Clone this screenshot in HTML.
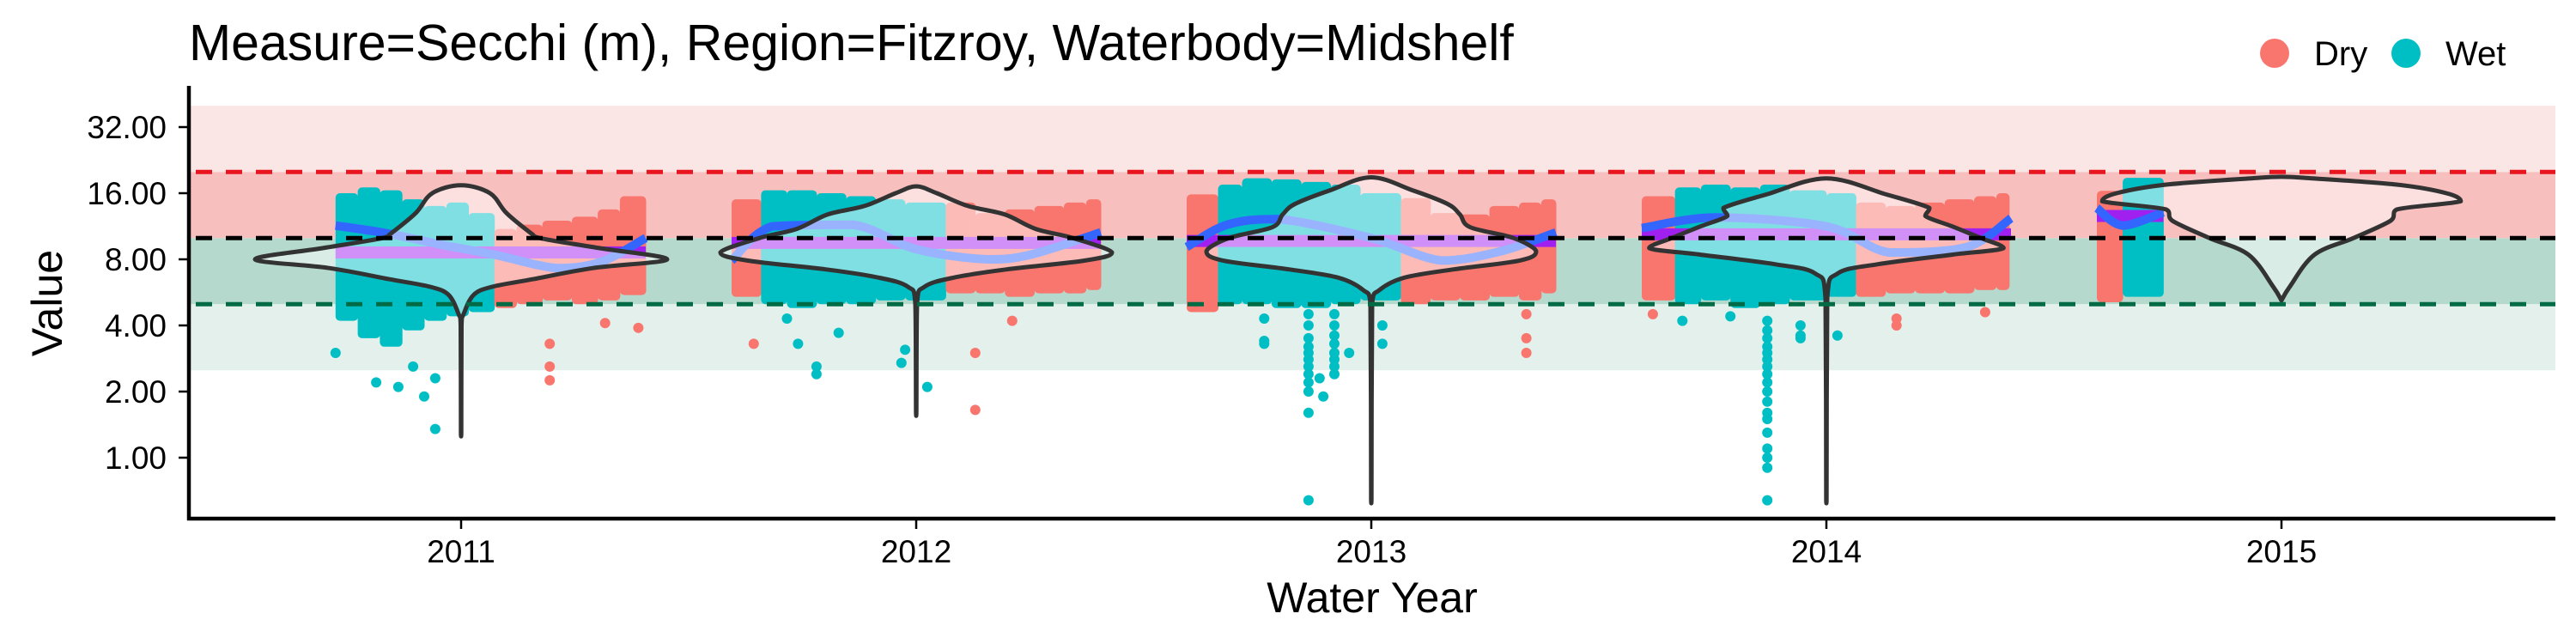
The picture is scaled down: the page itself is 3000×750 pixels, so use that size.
<!DOCTYPE html>
<html><head><meta charset="utf-8">
<style>
html,body{margin:0;padding:0;background:#fff;}
svg{display:block;font-family:"Liberation Sans",Arial,sans-serif;}
</style></head>
<body>
<svg id="chart" width="3000" height="750" viewBox="0 0 3000 750" xmlns="http://www.w3.org/2000/svg">
  <text x="220" y="70" font-size="59" fill="#000">Measure=Secchi (m), Region=Fitzroy, Waterbody=Midshelf</text>
  <g>
    <circle cx="2649" cy="62" r="17" fill="#F8766D"/>
    <text x="2695" y="76" font-size="40">Dry</text>
    <circle cx="2802" cy="62" r="17" fill="#00BFC4"/>
    <text x="2848" y="76" font-size="40">Wet</text>
  </g>
  <g id="bands"></g>
  <g id="pts"></g>
  <g id="trend"></g>
  <g id="violins"></g>
  <g id="refs"></g>
  <g id="axes"></g>
  <text transform="translate(72,353) rotate(-90)" text-anchor="middle" font-size="50">Value</text>
  <text x="1598" y="713" text-anchor="middle" font-size="50">Water Year</text>
</svg>
<script>
// ---- data ----
const years = [2011, 2012, 2013, 2014, 2015];
const yTicks = [1, 2, 4, 8, 16, 32];
const yTickLabels = ["1.00", "2.00", "4.00", "8.00", "16.00", "32.00"];
const bandLo = [2.5, 5, 10, 20];
const bandHi = [5, 10, 20, 40];
const refVals = [5, 10, 20];
const meanVals = [8.6, 9.5, 9.7, 10.4, 12.6];
const meanStart = [0.16, 0.0, 0.0, 0.0, 0.0];
const meanEnd = [1.0, 1.0, 1.0, 1.0, 0.18];
const trendT = [
  [0.16, 0.30, 0.45, 0.59, 0.76, 0.88, 1.0],
  [0.0, 0.11, 0.33, 0.50, 0.69, 0.81, 1.0],
  [0.0, 0.11, 0.25, 0.50, 0.69, 0.85, 1.0],
  [0.0, 0.20, 0.50, 0.67, 0.88, 1.0],
  [0.0, 0.07, 0.18]
];
const trendV = [
  [11.4, 10.5, 9.3, 8.4, 7.3, 7.8, 10.0],
  [7.9, 11.3, 11.5, 8.9, 8.0, 8.4, 10.6],
  [9.1, 11.5, 12.2, 10.0, 7.9, 8.7, 10.6],
  [11.1, 12.4, 11.3, 8.6, 9.1, 12.3],
  [13.7, 11.4, 13.1]
];
const violinLev = [
  [1.25, 1.3, 4.0, 4.5, 5.5, 6.0, 6.5, 7.3, 8.0, 9.0, 10.0, 10.5, 13.0, 16.0, 17.4],
  [1.55, 1.6, 5.0, 6.0, 6.6, 7.2, 7.9, 8.6, 10.0, 11.0, 12.8, 14.0, 16.0, 17.2],
  [0.62, 0.64, 5.0, 5.8, 6.6, 7.2, 7.9, 8.7, 10.0, 11.2, 12.8, 14.3, 16.5, 18.9],
  [0.62, 0.64, 5.3, 6.9, 7.6, 8.4, 9.0, 10.0, 11.3, 12.6, 13.7, 15.8, 18.7],
  [5.2, 6.0, 8.4, 10.0, 12.0, 13.5, 14.7, 16.0, 17.5, 18.7, 19.0]
];
const violinDen = [
  [0, 0.001, 0.002, 0.012, 0.06, 0.15, 0.35, 0.64, 1.0, 0.67, 0.38, 0.34, 0.22, 0.14, 0],
  [0, 0.001, 0.004, 0.04, 0.18, 0.44, 0.82, 0.95, 0.76, 0.58, 0.43, 0.25, 0.1, 0],
  [0, 0.001, 0.004, 0.04, 0.16, 0.40, 0.72, 0.80, 0.69, 0.48, 0.43, 0.37, 0.2, 0],
  [0, 0.001, 0.004, 0.055, 0.25, 0.61, 0.86, 0.75, 0.61, 0.48, 0.50, 0.29, 0],
  [0, 0.04, 0.16, 0.35, 0.53, 0.56, 0.87, 0.80, 0.56, 0.15, 0]
];
const cloudT = [
  [0.16, 0.22, 0.28, 0.34, 0.40, 0.46, 0.52, 0.59, 0.65, 0.72, 0.80, 0.87, 0.93],
  [0.0, 0.08, 0.15, 0.23, 0.31, 0.39, 0.47, 0.58, 0.66, 0.74, 0.82, 0.90, 0.96],
  [0.0, 0.085, 0.15, 0.23, 0.31, 0.39, 0.47, 0.58, 0.66, 0.74, 0.82, 0.90, 0.96],
  [0.0, 0.09, 0.16, 0.24, 0.32, 0.40, 0.50, 0.58, 0.66, 0.74, 0.82, 0.90, 0.96],
  [0.0, 0.07]
];
const cloudTop = [
  [16, 17, 16.5, 15, 14, 14.5, 13, 11, 11.5, 12, 12.5, 13.5, 15.5],
  [15, 16.5, 16.5, 16, 15.5, 15, 14.5, 14.5, 13, 13.5, 14, 14.5, 15],
  [15.8, 17.5, 18.7, 18.5, 18.0, 17.5, 16, 15.2, 13, 12.8, 14, 14.5, 15],
  [15.5, 17, 17.5, 17, 17.5, 16.5, 16, 14.5, 14, 14.5, 15, 15.5, 16],
  [16.4, 18.8]
];
const cloudBot = [
  [4.2, 3.5, 3.2, 3.8, 4.2, 4.4, 4.6, 4.8, 5, 5.2, 5, 5.2, 5.5],
  [5.4, 5.0, 4.8, 5.0, 5.0, 5.2, 5.2, 5.6, 5.6, 5.4, 5.6, 5.6, 5.8],
  [4.6, 5.0, 5.0, 4.8, 4.8, 5.0, 5.2, 5.0, 5.2, 5.2, 5.4, 5.2, 5.6],
  [5.2, 5.0, 5.2, 4.8, 5.0, 5.2, 5.4, 5.4, 5.6, 5.6, 5.6, 5.8, 5.8],
  [5.1, 5.4]
];
const cloudSeason = [
  ["W","W","W","W","W","W","W","D","D","D","D","D","D"],
  ["D","W","W","W","W","W","W","D","D","D","D","D","D"],
  ["D","W","W","W","W","W","W","D","D","D","D","D","D"],
  ["D","W","W","W","W","W","W","D","D","D","D","D","D"],
  ["D","W"]
];
const cloudEnd = [1.0, 1.0, 1.0, 0.995, 0.18];
const dotYear = [0,0,0,0,0,0,0,0,0,0,0,0, 1,1,1,1,1,1,1,1,1,1,1,1, 2,2,2,2,2,2,2,2,2,2,2,2,2,2,2,2,2,2,2,2,2,2,2,2,2,2,2,2,2,2,2, 3,3,3,3,3,3,3,3,3,3,3,3,3,3,3,3,3,3,3,3,3,3,3,3,3,3,3,3,3];
const dotT = [0.16,0.27,0.33,0.40,0.43,0.43,0.37,0.74,0.74,0.74,0.98,0.89,
  0.15,0.18,0.23,0.23,0.29,0.47,0.53,0.46,0.06,0.66,0.66,0.76,
  0.33,0.33,0.33,0.33,0.33,0.33,0.33,0.33,0.33,0.33,0.33,0.33,0.40,0.40,0.40,0.40,0.40,0.40,0.40,0.40,0.21,0.21,0.21,0.53,0.53,0.92,0.92,0.92,0.36,0.37,0.44,
  0.34,0.34,0.34,0.34,0.34,0.34,0.34,0.34,0.34,0.34,0.34,0.34,0.34,0.34,0.34,0.34,0.34,0.34,0.43,0.43,0.43,0.53,0.69,0.69,0.93,0.11,0.03,0.24];
const dotV = [3.0,2.2,2.1,1.9,1.35,2.3,2.6,2.25,2.6,3.3,3.9,4.1,
  4.3,3.3,2.6,2.4,3.7,3.1,2.1,2.7,3.3,3.0,1.65,4.2,
  4.5,4.0,3.5,3.2,3.0,2.8,2.6,2.4,2.2,2.0,1.6,0.64,4.5,4.0,3.6,3.3,3.0,2.8,2.6,2.4,3.4,3.3,4.3,4.0,3.3,4.5,3.5,3.0,2.3,1.9,3.0,
  4.2,3.8,3.5,3.2,3.0,2.8,2.6,2.4,2.2,2.0,1.8,1.6,1.5,1.3,1.1,1.0,0.9,0.64,4.0,3.6,3.5,3.6,4.3,4.0,4.6,4.2,4.5,4.4];
const dotSeason = ["W","W","W","W","W","W","W","D","D","D","D","D",
  "W","W","W","W","W","W","W","W","D","D","D","D",
  "W","W","W","W","W","W","W","W","W","W","W","W","W","W","W","W","W","W","W","W","W","W","W","W","W","D","D","D","W","W","W",
  "W","W","W","W","W","W","W","W","W","W","W","W","W","W","W","W","W","W","W","W","W","W","D","D","D","W","D","W"];

// ---- scales ----
const X0 = 537, XSTEP = 530, HALFSPAN = 215, VW = 240;
function xYear(i){ return X0 + XSTEP * (years[i] - years[0]); }
function xTime(i, t){ return xYear(i) - HALFSPAN + t * 2 * HALFSPAN; }
function yVal(v){ return 302 - 77 * Math.log2(v / 8); }
const PL = 222, PR = 2976;
const NS = "http://www.w3.org/2000/svg";
function mk(tag, attrs, parent){
  const e = document.createElementNS(NS, tag);
  for (const k in attrs) e.setAttribute(k, attrs[k]);
  parent.appendChild(e); return e;
}
const col = {D: "#F8766D", W: "#00BFC4"};
function clamp(v, a, b){ const lo = Math.min(a, b), hi = Math.max(a, b); return Math.max(lo, Math.min(hi, v)); }
function smoothPath(pts, closed){
  let d = "M" + pts[0][0].toFixed(1) + "," + pts[0][1].toFixed(1);
  const n = pts.length;
  for (let j = 0; j < n - 1; j++) {
    const p0 = pts[Math.max(0, j - 1)], p1 = pts[j], p2 = pts[j + 1], p3 = pts[Math.min(n - 1, j + 2)];
    let c1x = p1[0] + (p2[0] - p0[0]) / 6, c1y = p1[1] + (p2[1] - p0[1]) / 6;
    let c2x = p2[0] - (p3[0] - p1[0]) / 6, c2y = p2[1] - (p3[1] - p1[1]) / 6;
    c1x = clamp(c1x, p1[0], p2[0]); c2x = clamp(c2x, p1[0], p2[0]);
    c1y = clamp(c1y, p1[1], p2[1]); c2y = clamp(c2y, p1[1], p2[1]);
    d += " C" + c1x.toFixed(1) + "," + c1y.toFixed(1) + " " + c2x.toFixed(1) + "," + c2y.toFixed(1) + " " + p2[0].toFixed(1) + "," + p2[1].toFixed(1);
  }
  return closed ? d + " Z" : d;
}

// bands
const bandFill = ["#E3F0EB", "#B5D9CD", "#F8BFBF", "#FBE6E6"];
const gB = document.getElementById("bands");
for (let i = 0; i < bandLo.length; i++) {
  const r = mk("rect", {x: PL, y: yVal(bandHi[i]), width: PR - PL, height: yVal(bandLo[i]) - yVal(bandHi[i]), fill: bandFill[i]}, gB);
  
  
}

// points
const gP = document.getElementById("pts");
for (let i = 0; i < years.length; i++) {
  for (let j = 0; j < cloudT[i].length; j++) {
    const t0 = cloudT[i][j], t1 = j + 1 < cloudT[i].length ? cloudT[i][j + 1] : cloudEnd[i];
    const x0 = xTime(i, t0), x1 = xTime(i, t1);
    const r = mk("rect", {x: x0, y: yVal(cloudTop[i][j]), width: x1 - x0 + 0.5, height: yVal(cloudBot[i][j]) - yVal(cloudTop[i][j]), fill: col[cloudSeason[i][j]], rx: 5}, gP);
    
    
  }
}
for (let k = 0; k < dotT.length; k++) {
  const c = mk("circle", {cx: xTime(dotYear[k], dotT[k]), cy: yVal(dotV[k]), r: 6, fill: col[dotSeason[k]]}, gP);
  
  
}

// trend lines
const gT = document.getElementById("trend");
for (let i = 0; i < years.length; i++) {
  const m = mk("line", {x1: xTime(i, meanStart[i]), x2: xTime(i, meanEnd[i]), y1: yVal(meanVals[i]), y2: yVal(meanVals[i]), stroke: "#A020F0", "stroke-width": 14}, gT);
  
  
  const pts = [];
  for (let j = 0; j < trendT[i].length; j++) pts.push([xTime(i, trendT[i][j]), yVal(trendV[i][j])]);
  const p = mk("path", {d: smoothPath(pts, false), fill: "none", stroke: "#3366FF", "stroke-width": 10}, gT);
  
  
}

// violins
const gV = document.getElementById("violins");
for (let i = 0; i < years.length; i++) {
  const cx = xYear(i), L = violinLev[i], D = violinDen[i];
  const right = [], left = [];
  for (let j = 0; j < L.length; j++) {
    right.push([cx + D[j] * VW, yVal(L[j])]);
    left.push([cx - D[j] * VW, yVal(L[j])]);
  }
  const pts = right.concat(left.reverse().slice(1));
  const v = mk("path", {d: smoothPath(pts, true), fill: "rgba(255,255,255,0.5)", stroke: "#333333", "stroke-width": 5, "stroke-linejoin": "round"}, gV);
  
  
}

// reference dashed lines
const refCol = ["#006B45", "#000000", "#E8141E"];
const gR = document.getElementById("refs");
for (let i = 0; i < refVals.length; i++) {
  const l = mk("line", {x1: PL + 6, x2: PR, y1: yVal(refVals[i]), y2: yVal(refVals[i]), stroke: refCol[i], "stroke-width": 5, "stroke-dasharray": "19 16"}, gR);
  
  
}

// axes
const gA = document.getElementById("axes");
let a = mk("line", {x1: 220, x2: 220, y1: 100, y2: 606, stroke: "#000", "stroke-width": 4.5}, gA);


a = mk("line", {x1: 218, x2: PR, y1: 604, y2: 604, stroke: "#000", "stroke-width": 4.5}, gA);


for (let i = 0; i < yTicks.length; i++) {
  const y = yVal(yTicks[i]);
  const t = mk("line", {x1: 208, x2: 220, y1: y, y2: y, stroke: "#000", "stroke-width": 2.5}, gA);
  
  
  const tx = mk("text", {x: 194, y: y + 13, "text-anchor": "end", "font-size": 37}, gA);
  tx.textContent = yTickLabels[i];
  
  
}
for (let i = 0; i < years.length; i++) {
  const x = xYear(i);
  const t = mk("line", {x1: x, x2: x, y1: 604, y2: 616, stroke: "#000", "stroke-width": 2.5}, gA);
  
  
  const tx = mk("text", {x: x, y: 655, "text-anchor": "middle", "font-size": 37}, gA);
  tx.textContent = String(years[i]);
  
  
}
</script>
</body></html>
